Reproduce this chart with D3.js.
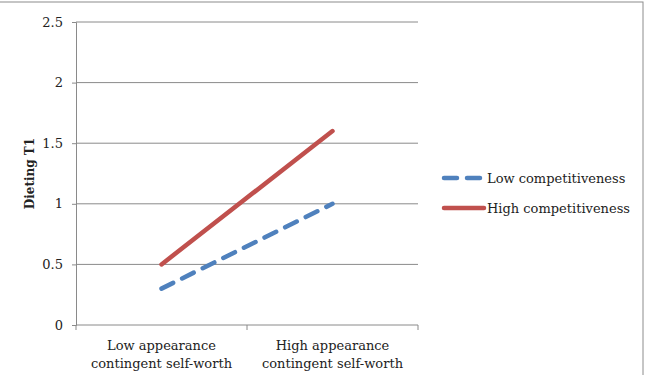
<!DOCTYPE html>
<html>
<head>
<meta charset="utf-8">
<script src="https://cdn.jsdelivr.net/npm/d3@7"></script>
<style>
  body { margin: 0; background: #fff; }
  text { font-family: "DejaVu Serif", "Liberation Serif", serif; fill: #222; }
</style>
</head>
<body>
<script>
var width = 648;
var height = 375;

// data
var categories = ["Low appearance\ncontingent self-worth", "High appearance\ncontingent self-worth"];
var seriesNames = ["Low competitiveness", "High competitiveness"];
var lowComp = [0.3, 1.0];
var highComp = [0.5, 1.6];
var yTicks = [0, 0.5, 1, 1.5, 2, 2.5];
var yTitle = "Dieting T1";

var series = [
    {name: seriesNames[0], values: lowComp, color: "#4F81BD", dash: "13,10"},
    {name: seriesNames[1], values: highComp, color: "#C0504D", dash: null}
];

var svg = d3.select("body")
    .append("svg")
    .attr("width", width)
    .attr("height", height);

// outer frame
svg.append("rect")
    .attr("x", -1).attr("y", 2)
    .attr("width", 644).attr("height", 380)
    .attr("fill", "none")
    .attr("stroke", "#8c8c8c")
    .attr("stroke-width", 1);

var marge = {top: 22, left: 76, right: 230, bottom: 50};

var x = d3.scaleBand()
    .domain(categories)
    .range([marge.left, 418]);

var y = d3.scaleLinear()
    .domain([0, 2.5])
    .range([325, marge.top]);

// gridlines
svg.append("g")
    .selectAll("line")
    .data(yTicks.slice(1))
    .enter()
    .append("line")
    .attr("x1", marge.left).attr("x2", 418)
    .attr("y1", function(d){ return y(d); })
    .attr("y2", function(d){ return y(d); })
    .attr("stroke", "#8a8a8a")
    .attr("stroke-width", 1);

// y axis
var yAxis = svg.append("g")
    .attr("transform", "translate(" + marge.left + ",0)")
    .call(d3.axisLeft(y).tickValues(yTicks).tickSize(4).tickPadding(9).tickFormat(d3.format("")));
yAxis.select(".domain").attr("stroke", "#8a8a8a");
yAxis.selectAll(".tick line").attr("stroke", "#8a8a8a");
yAxis.selectAll("text")
    .attr("font-size", 13)
    .attr("font-family", "DejaVu Serif, serif")
    .attr("fill", "#222");

// x axis
var xAxis = svg.append("g")
    .attr("transform", "translate(0," + y(0) + ")");
xAxis.append("line")
    .attr("x1", marge.left).attr("x2", 418)
    .attr("stroke", "#8a8a8a");
xAxis.selectAll(".xt")
    .data([marge.left, x(categories[1]), 418])
    .enter()
    .append("line")
    .attr("x1", function(d){ return d; })
    .attr("x2", function(d){ return d; })
    .attr("y1", 0).attr("y2", 5)
    .attr("stroke", "#8a8a8a");

var xLabels = xAxis.selectAll(".xl")
    .data(categories)
    .enter()
    .append("text")
    .attr("text-anchor", "middle")
    .attr("font-size", 13)
    .attr("transform", function(d){ return "translate(" + (x(d) + x.bandwidth()/2) + ",0)"; });
xLabels.each(function(d){
    var lines = d.split("\n");
    var t = d3.select(this);
    lines.forEach(function(l, i){
        t.append("tspan").attr("x", 0).attr("y", 25 + i*18).text(l);
    });
});

// y title
svg.append("text")
    .attr("transform", "translate(34," + y(1.25) + ") rotate(-90)")
    .attr("text-anchor", "middle")
    .attr("font-size", 12)
    .attr("font-weight", "bold")
    .text(yTitle);

// lines
var line = d3.line()
    .x(function(d, i){ return x(categories[i]) + x.bandwidth()/2; })
    .y(function(d){ return y(d); });

svg.append("g")
    .selectAll("path")
    .data(series)
    .enter()
    .append("path")
    .attr("d", function(d){ return line(d.values); })
    .attr("fill", "none")
    .attr("stroke", function(d){ return d.color; })
    .attr("stroke-width", 4.5)
    .attr("stroke-linecap", "round")
    .attr("stroke-dasharray", function(d){ return d.dash; });

// legend
var legend = svg.append("g")
    .selectAll("g")
    .data(series)
    .enter()
    .append("g")
    .attr("transform", function(d, i){ return "translate(444," + (178 + i*30) + ")"; });
legend.append("line")
    .attr("x1", 0).attr("x2", 40)
    .attr("stroke", function(d){ return d.color; })
    .attr("stroke-width", 4.5)
    .attr("stroke-linecap", "round")
    .attr("stroke-dasharray", function(d){ return d.dash ? "13,10" : null; });
legend.append("text")
    .attr("x", 43)
    .attr("y", 5)
    .attr("font-size", 13)
    .text(function(d){ return d.name; });
</script>
</body>
</html>
